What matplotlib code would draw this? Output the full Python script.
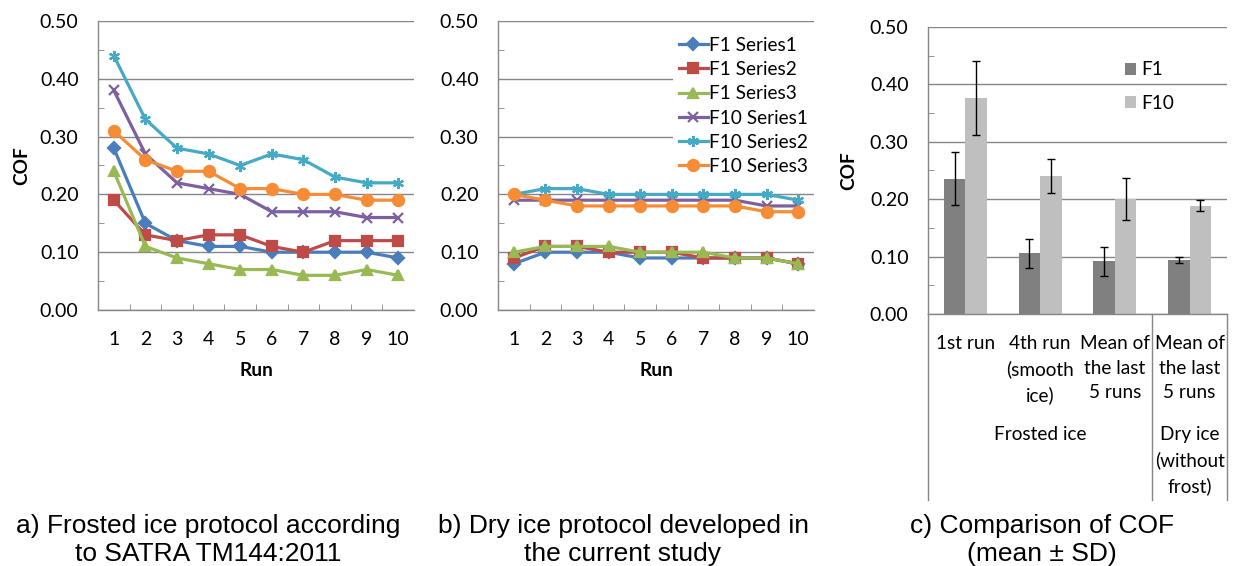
import numpy as np
import matplotlib
matplotlib.use("Agg")
import matplotlib.pyplot as plt
import matplotlib.transforms as mtrans

# ---------------- data ----------------
runs = list(range(1, 11))
series_names = ["F1 Series1", "F1 Series2", "F1 Series3",
                "F10 Series1", "F10 Series2", "F10 Series3"]

a_f1_s1 = [0.28, 0.15, 0.12, 0.11, 0.11, 0.10, 0.10, 0.10, 0.10, 0.09]
a_f1_s2 = [0.19, 0.13, 0.12, 0.13, 0.13, 0.11, 0.10, 0.12, 0.12, 0.12]
a_f1_s3 = [0.24, 0.11, 0.09, 0.08, 0.07, 0.07, 0.06, 0.06, 0.07, 0.06]
a_f10_s1 = [0.38, 0.27, 0.22, 0.21, 0.20, 0.17, 0.17, 0.17, 0.16, 0.16]
a_f10_s2 = [0.44, 0.33, 0.28, 0.27, 0.25, 0.27, 0.26, 0.23, 0.22, 0.22]
a_f10_s3 = [0.31, 0.26, 0.24, 0.24, 0.21, 0.21, 0.20, 0.20, 0.19, 0.19]

b_f1_s1 = [0.08, 0.10, 0.10, 0.10, 0.09, 0.09, 0.09, 0.09, 0.09, 0.08]
b_f1_s2 = [0.09, 0.11, 0.11, 0.10, 0.10, 0.10, 0.09, 0.09, 0.09, 0.08]
b_f1_s3 = [0.10, 0.11, 0.11, 0.11, 0.10, 0.10, 0.10, 0.09, 0.09, 0.08]
b_f10_s1 = [0.19, 0.19, 0.19, 0.19, 0.19, 0.19, 0.19, 0.19, 0.18, 0.18]
b_f10_s2 = [0.20, 0.21, 0.21, 0.20, 0.20, 0.20, 0.20, 0.20, 0.20, 0.19]
b_f10_s3 = [0.20, 0.19, 0.18, 0.18, 0.18, 0.18, 0.18, 0.18, 0.17, 0.17]

c_categories = ["1st run", "4th run\n(smooth\nice)", "Mean of\nthe last\n5 runs", "Mean of\nthe last\n5 runs"]
c_groups = ["Frosted ice", "Dry ice\n(without\nfrost)"]
c_f1_mean = [0.236, 0.106, 0.092, 0.094]
c_f1_sd = [0.046, 0.025, 0.025, 0.005]
c_f10_mean = [0.376, 0.240, 0.200, 0.189]
c_f10_sd = [0.065, 0.030, 0.037, 0.010]

yticks = [0.0, 0.1, 0.2, 0.3, 0.4, 0.5]
ytick_labels = ["0.00", "0.10", "0.20", "0.30", "0.40", "0.50"]

captions = ["a) Frosted ice protocol according\nto SATRA TM144:2011",
            "b) Dry ice protocol developed in\nthe current study",
            "c) Comparison of COF\n(mean \u00b1 SD)"]

# ---------------- style ----------------
colors = ["#4A7EBB", "#BE4B48", "#98B954", "#7D60A0", "#46AAC5", "#F68C36"]
markers = ["D", "s", "^", "x", (6, 2, 0), "o"]
msizes = [6, 7.5, 7.5, 7.5, 8, 8]
grid_c = "#868686"
font = ["Lato", "DejaVu Sans"]
plt.rcParams["font.family"] = font
FS = 14
FL = 13.7

fig = plt.figure(figsize=(12.33, 5.66), dpi=100)

W, H = 1233, 566
def rect(l, r, t, b):
    return [l / W, 1 - b / H, (r - l) / W, (b - t) / H]

ax_a = fig.add_axes(rect(98, 414, 21, 310))
ax_b = fig.add_axes(rect(498, 814, 21, 310))
ax_c = fig.add_axes(rect(928, 1227, 27, 314))

def style_axes(ax):
    ax.set_ylim(0, 0.5)
    ax.set_yticks(yticks)
    ax.set_yticklabels(ytick_labels, fontsize=FS)
    ax.set_yticks(np.arange(0.05, 0.5, 0.1), minor=True)
    ax.yaxis.grid(True, color=grid_c, lw=1.0)
    ax.set_axisbelow(True)
    for s in ["top", "right"]:
        ax.spines[s].set_visible(False)
    for s in ["left", "bottom"]:
        ax.spines[s].set_color(grid_c)
        ax.spines[s].set_linewidth(1.0)
    ax.tick_params(axis="y", which="both", direction="in", length=4, color=grid_c, pad=14)
    ax.tick_params(axis="y", which="major", length=0)

def line_panel(ax, data):
    style_axes(ax)
    for vals, c, m, ms, name in zip(data, colors, markers, msizes, series_names):
        ax.plot(runs, vals, color=c, lw=2.3, marker=m, ms=ms, mec=c, mfc=c,
                mew=1.6, label=name, zorder=3)
    ax.set_xlim(0.5, 10.5)
    ax.set_xticks(runs)
    ax.set_xticklabels([str(r) for r in runs], fontsize=FS)
    ax.set_xticks(np.arange(1.5, 10.5, 1.0), minor=True)
    ax.tick_params(axis="x", which="major", length=0, pad=15)
    ax.tick_params(axis="x", which="minor", direction="in", length=4, color=grid_c)
    ax.set_xlabel("Run", fontsize=FL, fontweight="bold", labelpad=10)

line_panel(ax_a, [a_f1_s1, a_f1_s2, a_f1_s3, a_f10_s1, a_f10_s2, a_f10_s3])
ax_a.set_ylabel("COF", fontsize=FL, fontweight="bold", labelpad=7)
line_panel(ax_b, [b_f1_s1, b_f1_s2, b_f1_s3, b_f10_s1, b_f10_s2, b_f10_s3])
leg = ax_b.legend(loc="upper right", bbox_to_anchor=(1.0, 0.965), fontsize=FL,
                  frameon=True, facecolor="white", edgecolor="none", framealpha=1,
                  handlelength=1.5, handletextpad=0.1, labelspacing=0.38,
                  borderpad=0.3, borderaxespad=0.0)
leg.set_zorder(5)

# ---------------- panel c ----------------
style_axes(ax_c)
x = np.arange(len(c_categories))
bw = 0.287
ax_c.bar(x - bw / 2, c_f1_mean, bw, color="#808080", label="F1", zorder=2)
ax_c.bar(x + bw / 2, c_f10_mean, bw, color="#BFBFBF", label="F10", zorder=2)
ax_c.errorbar(x - bw / 2, c_f1_mean, yerr=c_f1_sd, fmt="none", ecolor="black",
              elinewidth=1.0, capsize=3, capthick=1.0, zorder=3)
ax_c.errorbar(x + bw / 2, c_f10_mean, yerr=c_f10_sd, fmt="none", ecolor="black",
              elinewidth=1.0, capsize=3, capthick=1.0, zorder=3)
ax_c.set_xlim(-0.5, len(c_categories) - 0.5)
ax_c.set_xticks(x)
ax_c.set_xticklabels(c_categories, fontsize=FL, linespacing=1.55, va="top")
ax_c.tick_params(axis="x", which="major", length=0, pad=15)
ax_c.set_ylabel("COF", fontsize=FL, fontweight="bold", labelpad=9)
ax_c.legend(loc="upper left", bbox_to_anchor=(0.6, 0.94), fontsize=FL, frameon=False,
            handlelength=0.6, handleheight=0.6, handletextpad=0.3, labelspacing=0.85)

trans = mtrans.blended_transform_factory(ax_c.transData, ax_c.transAxes)
ext = (500 - 314) / (314 - 27)
for xb in [-0.5, 2.5, 3.5]:
    ax_c.plot([xb, xb], [0, -ext], transform=trans, color=grid_c, lw=1.0, clip_on=False)
ax_c.text(1.0, -(435 - 314) / 287, c_groups[0], transform=trans, ha="center", va="center",
          fontsize=FL)
ax_c.text(3.0, -(426 - 314) / 287, c_groups[1], transform=trans, ha="center", va="top",
          fontsize=FL, linespacing=1.55)

# ---------------- captions ----------------
cap_x = [208, 623, 1042]
for cx, txt in zip(cap_x, captions):
    fig.text(cx / W, 1 - 540 / H, txt, ha="center", va="center", fontsize=19,
             family=["Liberation Sans", "DejaVu Sans"], linespacing=1.22)

fig.savefig("out.png", dpi=100)
